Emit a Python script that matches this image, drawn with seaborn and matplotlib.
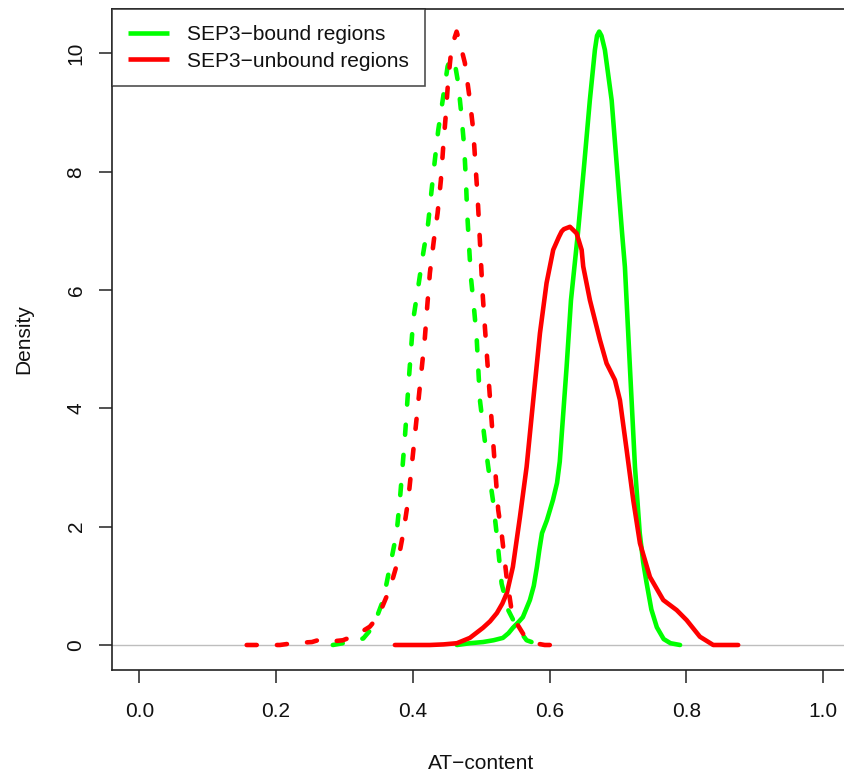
import numpy as np
import pandas as pd
import matplotlib
matplotlib.use("Agg")
import matplotlib.pyplot as plt
import seaborn as sns
from matplotlib.lines import Line2D

# ---- data (AT-content vs density) ----
bound_x = [0.4645, 0.4836, 0.5026, 0.5180, 0.5318, 0.5400, 0.5464, 0.5540, 0.561, 0.5713,
           0.5770, 0.5816, 0.585, 0.589, 0.5962, 0.605, 0.611, 0.615, 0.618, 0.625,
           0.6314, 0.6416, 0.6504, 0.659, 0.6664, 0.6695, 0.6727, 0.676, 0.681, 0.6909,
           0.6986, 0.7061, 0.7103, 0.7176, 0.725, 0.732, 0.737, 0.742, 0.749, 0.757,
           0.767, 0.777, 0.791]
bound_y = [0.0, 0.03, 0.05, 0.08, 0.12, 0.20, 0.29, 0.38, 0.47, 0.76,
           1.00, 1.32, 1.60, 1.89, 2.11, 2.45, 2.74, 3.10, 3.58, 4.70,
           5.83, 6.97, 8.08, 9.21, 10.06, 10.30, 10.37, 10.30, 10.06, 9.21,
           8.08, 6.97, 6.39, 4.70, 3.01, 1.89, 1.40, 1.05, 0.60, 0.30,
           0.10, 0.03, 0.0]

unbound_x = [0.3738, 0.400, 0.425, 0.445, 0.4645, 0.4835, 0.5026, 0.513, 0.523, 0.531,
             0.5377, 0.5464, 0.5567, 0.5665, 0.5762, 0.586, 0.5957, 0.6054, 0.6138, 0.6177,
             0.621, 0.6299, 0.6396, 0.647, 0.6493, 0.6591, 0.6737, 0.6835, 0.6957, 0.703,
             0.7128, 0.7225, 0.7323, 0.7469, 0.7664, 0.786, 0.8006, 0.820, 0.8395, 0.876]
unbound_y = [0.0, 0.0, 0.0, 0.01, 0.03, 0.12, 0.29, 0.40, 0.54, 0.70,
             0.88, 1.32, 2.16, 3.01, 4.14, 5.27, 6.12, 6.68, 6.90, 6.99,
             7.03, 7.07, 6.96, 6.68, 6.40, 5.83, 5.16, 4.76, 4.48, 4.14,
             3.30, 2.45, 1.72, 1.15, 0.76, 0.59, 0.42, 0.14, 0.0, 0.0]

bound_bg_x = [0.283, 0.2977, 0.312, 0.3275, 0.3421, 0.3567, 0.3665, 0.3763, 0.3811, 0.3884,
              0.3943, 0.4006, 0.4079, 0.4152, 0.4225, 0.4275, 0.4323, 0.4372, 0.4445, 0.4509,
              0.4545, 0.4576, 0.4620, 0.4664, 0.4714, 0.4752, 0.4777, 0.4796, 0.4821, 0.485,
              0.4894, 0.4934, 0.4982, 0.5070, 0.5128, 0.5172, 0.5226, 0.5299, 0.5396, 0.5518,
              0.5665, 0.586]
bound_bg_y = [0.0, 0.03, 0.07, 0.11, 0.31, 0.76, 1.32, 1.89, 2.45, 3.50,
              4.50, 5.50, 6.05, 6.62, 7.13, 7.69, 8.20, 8.70, 9.27, 9.78,
              9.90, 9.93, 9.80, 9.50, 8.93, 8.42, 7.86, 7.30, 6.79, 6.22,
              5.71, 5.20, 4.14, 3.30, 2.80, 2.45, 1.89, 1.04, 0.59, 0.31,
              0.08, 0.0]

unbound_bg_x = [0.157, 0.179, 0.2055, 0.2246, 0.2524, 0.261, 0.272, 0.2977, 0.3177, 0.3372,
                0.3494, 0.3617, 0.3714, 0.3787, 0.386, 0.3933, 0.4031, 0.4177, 0.4211, 0.425,
                0.4309, 0.4363, 0.4411, 0.4445, 0.448, 0.4518, 0.4568, 0.4641, 0.4689, 0.4762,
                0.4835, 0.4884, 0.4919, 0.4948, 0.4971, 0.4996, 0.5021, 0.5055, 0.5128, 0.5187,
                0.525, 0.5299, 0.5372, 0.5445, 0.5518, 0.564, 0.5786, 0.593, 0.612]
unbound_bg_y = [0.0, 0.0, 0.0, 0.03, 0.05, 0.08, 0.05, 0.08, 0.17, 0.31,
                0.48, 0.82, 1.15, 1.44, 1.89, 2.45, 3.55, 5.20, 5.72, 6.29,
                6.85, 7.30, 7.86, 8.42, 8.92, 9.55, 10.11, 10.37, 10.18, 9.84,
                9.21, 8.71, 8.08, 7.58, 7.07, 6.51, 5.95, 5.37, 4.19, 3.25,
                2.28, 1.89, 1.15, 0.59, 0.37, 0.14, 0.03, 0.0, 0.0]

legend_labels = ["SEP3\u2212bound regions", "SEP3\u2212unbound regions"]
x_ticks = [0.0, 0.2, 0.4, 0.6, 0.8, 1.0]
y_ticks = [0, 2, 4, 6, 8, 10]

# ---- styling ----
sns.set_theme(style="white")
plt.rcParams['font.family'] = ['Liberation Sans', 'DejaVu Sans']

W, H = 844, 774
fig = plt.figure(figsize=(W / 100, H / 100), dpi=100)
ax = fig.add_axes([112 / W, (H - 670) / H, (850.3 - 112) / W, (670 - 9) / H])

GREEN = "#00FF00"
RED = "#FF0000"
LW = 3.3
DASH = (2.2, 4.4)
FS = 15

ax.axhline(0, color="#BEBEBE", lw=1.0, zorder=1)

sns.lineplot(x=bound_x, y=bound_y, ax=ax, color=GREEN, lw=LW, sort=False, zorder=3)
sns.lineplot(x=unbound_x, y=unbound_y, ax=ax, color=RED, lw=LW, sort=False, zorder=3)
sns.lineplot(x=bound_bg_x, y=bound_bg_y, ax=ax, color=GREEN, lw=LW, sort=False, zorder=3)
sns.lineplot(x=unbound_bg_x, y=unbound_bg_y, ax=ax, color=RED, lw=LW, sort=False, zorder=3)
lines = ax.get_lines()
for ln in lines[1:]:
    ln.set_solid_capstyle("round")
    ln.set_solid_joinstyle("round")
for ln in lines[3:5]:
    ln.set_dashes(DASH)
    ln.set_dash_capstyle("round")
    ln.set_dash_joinstyle("round")

ax.set_xlim(-0.04, 1.04)
ax.set_ylim(-0.4227, 10.752)
ax.set_xticks(x_ticks)
ax.set_xticklabels([f"{v:.1f}" for v in x_ticks])
ax.set_yticks(y_ticks)
ax.set_yticklabels([str(v) for v in y_ticks], rotation=90, va="center")

for s in ax.spines.values():
    s.set_color("#222222")
    s.set_linewidth(1.2)
    s.set_visible(True)

ax.tick_params(axis="both", direction="out", length=9.5, width=1.1, color="#222222",
               labelsize=FS, labelcolor="#111111", left=True, bottom=True)
ax.tick_params(axis="x", pad=13.5)
ax.tick_params(axis="y", pad=9.5)

ax.set_xlabel("AT\u2212content", fontsize=FS, color="#111111", labelpad=24)
ax.set_ylabel("Density", fontsize=FS, color="#111111", labelpad=24)

handles = [Line2D([], [], color=GREEN, lw=LW, solid_capstyle="butt"),
           Line2D([], [], color=RED, lw=LW, solid_capstyle="butt")]
leg = ax.legend(handles, legend_labels, loc="upper left", bbox_to_anchor=(0, 1),
                borderaxespad=0, fancybox=False, frameon=True, fontsize=FS,
                handlelength=1.97, handletextpad=0.87, labelspacing=0.375,
                borderpad=0.76)
leg.get_frame().set_edgecolor("#222222")
leg.get_frame().set_linewidth(1.2)
for t in leg.get_texts():
    t.set_color("#111111")

fig.savefig("out.png", dpi=100)
